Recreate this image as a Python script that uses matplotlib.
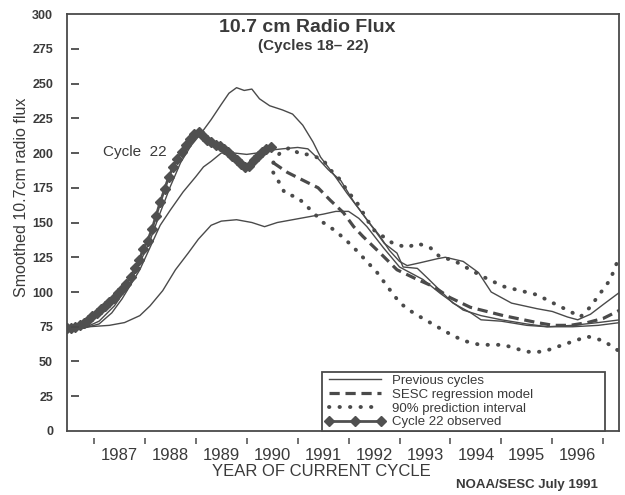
import numpy as np
import matplotlib.pyplot as plt
from matplotlib import transforms

# ---- data (year, smoothed 10.7cm flux) ----
c22_start = 1986.47   # first monthly point of cycle 22
c22_flux = [74, 74, 75, 76, 78, 80, 83, 85, 88, 90, 93, 96, 99, 102, 106, 111,
            117, 123, 131, 137, 145, 155, 165, 174, 183, 190, 196, 201, 206, 210,
            214, 215, 212, 209, 208, 206, 205, 203, 201, 198, 195, 192, 190, 191,
            195, 198, 201, 203, 204]

# previous cycles
cyc_a_year = [1986.47, 1986.8, 1987.1, 1987.4, 1987.7, 1987.9, 1988.1, 1988.3, 1988.5,
              1988.7, 1988.9, 1989.1, 1989.3, 1989.5, 1989.65, 1989.8, 1989.95, 1990.1,
              1990.25, 1990.45, 1990.7, 1990.9, 1991.1, 1991.3, 1991.45, 1991.7, 1991.97,
              1992.2, 1992.4, 1992.6, 1992.8, 1993.0, 1993.15, 1993.4, 1993.75, 1993.9,
              1994.25, 1994.55, 1994.8, 1995.2, 1995.7, 1996.0, 1996.3, 1996.5, 1996.75,
              1997.0, 1997.33]
cyc_a_flux = [73, 74, 79, 90, 106, 121, 137, 157, 176, 193, 205, 214, 224, 235, 243, 247,
              245, 246, 239, 234, 231, 228, 220, 208, 197, 185, 171, 160, 150, 141, 130,
              122, 119, 121, 124, 125, 122, 114, 100, 92, 88, 86, 82, 80, 84, 91, 100]

cyc_b_year = [1986.47, 1986.8, 1987.1, 1987.35, 1987.55, 1987.7, 1987.9, 1988.1, 1988.3,
              1988.5, 1988.75, 1989.0, 1989.15, 1989.3, 1989.5, 1989.75, 1990.0, 1990.2,
              1990.45, 1990.7, 1991.0, 1991.2, 1991.4, 1991.6, 1991.85, 1992.1, 1992.4,
              1992.7, 1992.95, 1993.07, 1993.35, 1993.55, 1993.8, 1994.05, 1994.4, 1994.6,
              1995.0, 1995.5, 1995.9, 1996.4, 1996.9, 1997.33]
cyc_b_flux = [73, 74, 77, 85, 95, 104, 116, 132, 148, 159, 172, 183, 190, 194, 200, 200,
              199, 200, 202, 203, 204, 203, 196, 188, 180, 165, 150, 135, 128, 118, 117,
              110, 101, 92, 85, 80, 79, 76, 75, 75, 76, 78]

cyc_c_year = [1986.47, 1986.9, 1987.3, 1987.6, 1987.9, 1988.1, 1988.35, 1988.6, 1988.85,
              1989.05, 1989.3, 1989.5, 1989.8, 1990.1, 1990.35, 1990.6, 1990.9, 1991.2,
              1991.5, 1991.75, 1992.0, 1992.2, 1992.36, 1992.68, 1993.0, 1993.46, 1993.8,
              1994.25, 1994.6, 1995.0, 1995.5, 1995.9, 1996.4, 1996.9, 1997.33]
cyc_c_flux = [73, 75, 76, 78, 83, 90, 101, 116, 128, 138, 148, 151, 152, 150, 147, 150,
              152, 154, 156, 158, 158, 153, 147, 132, 118, 109, 99, 87, 83, 80, 77, 75,
              76, 78, 80]

# SESC regression model and 90% interval
sesc_year = [1990.52, 1990.8, 1991.18, 1991.4, 1991.64, 1991.9, 1992.1, 1992.28, 1992.62,
             1992.95, 1993.35, 1993.66, 1993.99, 1994.39, 1995.04, 1995.7, 1996.02,
             1996.35, 1996.69, 1997.0, 1997.33]
sesc_flux = [193, 186, 179, 175, 166, 157, 147, 140, 128, 116, 109, 104, 96, 89, 83, 78,
             76, 76, 78, 81, 87]

upper_year = [1990.52, 1990.65, 1990.85, 1991.05, 1991.24, 1991.5, 1991.64, 1991.83,
              1991.97, 1992.17, 1992.48, 1992.87, 1993.15, 1993.35, 1993.6, 1993.8,
              1994.05, 1994.39, 1994.64, 1995.04, 1995.37, 1995.7, 1996.02, 1996.35,
              1996.55, 1996.74, 1996.94, 1997.14, 1997.3]
upper_flux = [193, 200, 204, 199, 199, 195, 188, 181, 173, 164, 145, 135, 132, 135, 132,
              125, 123, 116, 111, 104, 101, 98, 92, 86, 82, 89, 99, 109, 124]

lower_year = [1990.52, 1990.65, 1990.75, 1991.0, 1991.2, 1991.5, 1991.7, 1991.9, 1992.1,
              1992.28, 1992.56, 1992.76, 1993.01, 1993.27, 1993.6, 1993.93, 1994.25,
              1994.58, 1995.04, 1995.5, 1995.82, 1996.21, 1996.69, 1997.0, 1997.33]
lower_flux = [186, 178, 171, 168, 161, 150, 145, 139, 132, 125, 114, 104, 92, 85, 78, 71,
              65, 62, 62, 57, 57, 62, 68, 65, 57]

year_labels = ['1987', '1988', '1989', '1990', '1991', '1992', '1993', '1994', '1995', '1996']
y_ticks = [0, 25, 50, 75, 100, 125, 150, 175, 200, 225, 250, 275, 300]

ink = '#4a4a4a'
plt.rcParams['font.family'] = ['Liberation Sans', 'DejaVu Sans']
plt.rcParams['text.color'] = '#3a3a3a'

fig = plt.figure(figsize=(6.25, 4.95), dpi=100)
ax = fig.add_axes([0.1072, 0.1293, 0.8832, 0.8424])

ax.plot(cyc_a_year, cyc_a_flux, color=ink, lw=1.0, label='Previous cycles')
ax.plot(cyc_b_year, cyc_b_flux, color=ink, lw=1.0)
ax.plot(cyc_c_year, cyc_c_flux, color=ink, lw=1.0)

ax.plot(sesc_year, sesc_flux, color=ink, lw=2.3, dashes=(3.2, 1.8),
        label='SESC regression model')
for yrs, vals, lab in [(upper_year, upper_flux, '90% prediction interval'),
                       (lower_year, lower_flux, None)]:
    ax.plot(yrs, vals, color=ink, lw=2.8, dashes=(0.1, 2.6), dash_capstyle='round',
            label=lab)

c22_year = c22_start + np.arange(len(c22_flux)) / 12
ax.plot(c22_year, c22_flux, color='#505050', lw=2.0, marker='D', ms=5.5,
        mec='#505050', label='Cycle 22 observed')

ax.text(1987.8, 201, 'Cycle  22', fontsize=11, ha='center', va='center')

ax.set_xlim(1986.47, 1997.31)
ax.set_ylim(0, 300)

# y axis: short dashes inside the frame, bold small labels
ax.set_yticks(y_ticks)
ax.tick_params(axis='y', length=0, pad=10, labelsize=9, labelcolor='#3a3a3a')
for t in ax.get_yticklabels():
    t.set_fontweight('bold')
ytr = transforms.blended_transform_factory(ax.transAxes, ax.transData)
ax.plot([0.0145] * 11, y_ticks[1:-1], ls='none', marker='_', ms=6, mew=1.3,
        color=ink, transform=ytr, clip_on=False)

# x axis: year boundary ticks set below the frame, labels in between
years = [int(s) for s in year_labels]
ax.set_xticks([y + 0.5 for y in years])
ax.set_xticklabels(year_labels)
ax.tick_params(axis='x', length=0, pad=12, labelsize=12, labelcolor='#3a3a3a')
xtr = transforms.blended_transform_factory(ax.transData, ax.transAxes)
ax.plot(years + [years[-1] + 1], [-0.025] * (len(years) + 1), ls='none', marker='|',
        ms=5, mew=1.1, color=ink, transform=xtr, clip_on=False)

for s in ax.spines.values():
    s.set_color(ink)
    s.set_linewidth(1.3)

leg = ax.legend(loc='lower left', bbox_to_anchor=(0.462, 0.0, 0.513, 0.146),
                mode='expand', fontsize=9.5, handlelength=4.6, handletextpad=0.5,
                labelspacing=0.12, borderpad=0.2, borderaxespad=0, numpoints=3,
                fancybox=False, framealpha=1, edgecolor=ink)
leg.get_frame().set_linewidth(1.3)

fig.text(0.491, 0.944, '10.7 cm Radio Flux', fontsize=14, fontweight='bold',
         ha='center', va='center')
fig.text(0.502, 0.908, '(Cycles 18\u2013 22)', fontsize=11, fontweight='bold',
         ha='center', va='center')
fig.text(0.035, 0.602, 'Smoothed 10.7cm radio flux', fontsize=11.5, rotation=90,
         ha='center', va='center')
fig.text(0.514, 0.047, 'YEAR OF CURRENT CYCLE', fontsize=12, ha='center', va='center')
fig.text(0.957, 0.02, 'NOAA/SESC July 1991', fontsize=9.5, fontweight='bold',
         ha='right', va='center')

fig.savefig('out.png', dpi=100)
